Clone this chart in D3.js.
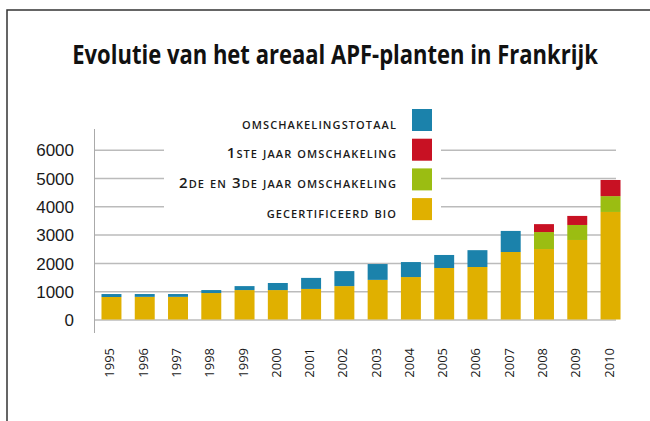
<!DOCTYPE html>
<html lang="nl">
<head>
    <meta charset="UTF-8">
    <title>Evolutie van het areaal APF-planten in Frankrijk</title>
    <script src="https://d3js.org/d3.v7.min.js"></script>
    <style>
        body {
            margin: 0;
            background: #fff;
        }

        svg {
            display: block;
            font-family: "Open Sans", sans-serif;
        }

        .title {
            font-size: 26px;
            font-weight: 700;
            fill: #111;
        }

        .y-axis text {
            font-size: 17px;
            fill: #1a1a1a;
        }

        .y-axis line {
            stroke: #bbb;
            stroke-width: 1.5px;
        }

        .x-label {
            font-size: 13px;
            fill: #1a1a1a;
        }

        .legend text {
            font-size: 15px;
            font-weight: 600;
            font-variant: small-caps;
            letter-spacing: 1.1px;
            fill: #1a1a1a;
        }
    </style>
</head>
<body>
    <div id="chart"></div>

    <script>
        // Areaal per jaar (ha)
        const years = ['1995', '1996', '1997', '1998', '1999', '2000', '2001', '2002',
                       '2003', '2004', '2005', '2006', '2007', '2008', '2009', '2010'];
        const gecertificeerd = [795, 800, 800, 935, 1040, 1040, 1080, 1180,
                                1400, 1500, 1820, 1855, 2385, 2490, 2810, 3800];
        const omschakelingTotaal = [105, 100, 100, 105, 140, 250, 390, 530,
                                    560, 530, 460, 595, 745, 0, 0, 0];
        const jaar23 = [0, 0, 0, 0, 0, 0, 0, 0, 0, 0, 0, 0, 0, 600, 530, 560];
        const jaar1 = [0, 0, 0, 0, 0, 0, 0, 0, 0, 0, 0, 0, 0, 280, 320, 570];
        const yTicks = [0, 1000, 2000, 3000, 4000, 5000, 6000];

        const legendItems = [
            { key: 'omschakeling', label: 'omschakelingstotaal', color: '#1b82ab' },
            { key: 'jaar1', label: '1ste jaar omschakeling', color: '#c81123' },
            { key: 'jaar23', label: '2de en 3de jaar omschakeling', color: '#9bbd12' },
            { key: 'bio', label: 'gecertificeerd bio', color: '#e0b000' }
        ];
        const colorOf = {};
        legendItems.forEach(d => colorOf[d.key] = d.color);

        const rows = years.map((y, i) => ({
            year: y,
            bio: gecertificeerd[i],
            omschakeling: omschakelingTotaal[i],
            jaar23: jaar23[i],
            jaar1: jaar1[i]
        }));

        const width = 650, height = 421;

        const svg = d3.select('#chart').append('svg')
            .attr('width', width)
            .attr('height', height);

        // frame
        svg.append('path')
            .attr('d', 'M7,421 V10 H650')
            .attr('fill', 'none')
            .attr('stroke', '#333')
            .attr('stroke-width', 1.5);

        // title: squeeze horizontally to the narrow look of the original
        const title = svg.append('text')
            .attr('class', 'title')
            .attr('text-anchor', 'middle')
            .text('Evolutie van het areaal APF-planten in Frankrijk');
        const natural = title.node().getComputedTextLength();
        title.attr('transform', `translate(335,64) scale(${526 / natural},1)`);

        const x = d3.scaleBand()
            .domain(years)
            .range([94, 628])
            .paddingInner(0.4)
            .paddingOuter(0.225);

        const y = d3.scaleLinear()
            .domain([0, 6000])
            .range([319.5, 149.7]);

        // gridlines + y labels
        const yAxis = svg.append('g')
            .attr('class', 'y-axis')
            .attr('transform', 'translate(94,0)')
            .call(d3.axisLeft(y).tickValues(yTicks).tickSize(-522).tickPadding(20).tickFormat(d3.format('d')));
        yAxis.select('.domain').remove();
        yAxis.selectAll('.tick line')
            .filter(d => d === 0)
            .attr('stroke', '#ddd')
            .attr('stroke-width', 2.5);
        yAxis.selectAll('.tick text').attr('dy', '0.36em');

        // vertical axis line
        svg.append('line')
            .attr('x1', 94.5).attr('x2', 94.5)
            .attr('y1', 129).attr('y2', 333)
            .attr('stroke', '#aaa')
            .attr('stroke-width', 1);

        // legend background breaks the gridlines
        svg.append('rect')
            .attr('x', 164).attr('y', 104)
            .attr('width', 277).attr('height', 118)
            .attr('fill', '#fff');

        const stack = d3.stack().keys(['bio', 'omschakeling', 'jaar23', 'jaar1']);
        const series = stack(rows);

        svg.append('g').selectAll('g')
            .data(series)
            .join('g')
            .attr('fill', d => colorOf[d.key])
            .selectAll('rect')
            .data(d => d.filter(s => s[1] > s[0]))
            .join('rect')
            .attr('x', d => x(d.data.year))
            .attr('width', x.bandwidth())
            .attr('y', d => y(d[1]))
            .attr('height', d => y(d[0]) - y(d[1]));

        // x labels
        svg.append('g').selectAll('text')
            .data(years)
            .join('text')
            .attr('class', 'x-label')
            .attr('text-anchor', 'end')
            .attr('transform', d => `translate(${x(d) + x.bandwidth() / 2 + 3},348) rotate(-90)`)
            .text(d => d);

        // legend
        const legend = svg.append('g').attr('class', 'legend');
        const item = legend.selectAll('g')
            .data(legendItems)
            .join('g')
            .attr('transform', (d, i) => `translate(0,${109 + i * 29.7})`);

        item.append('rect')
            .attr('x', 412)
            .attr('width', 20)
            .attr('height', 22)
            .attr('fill', d => d.color);

        item.append('text')
            .attr('x', 397)
            .attr('y', 19.5)
            .attr('text-anchor', 'end')
            .text(d => d.label);
    </script>
</body>
</html>
